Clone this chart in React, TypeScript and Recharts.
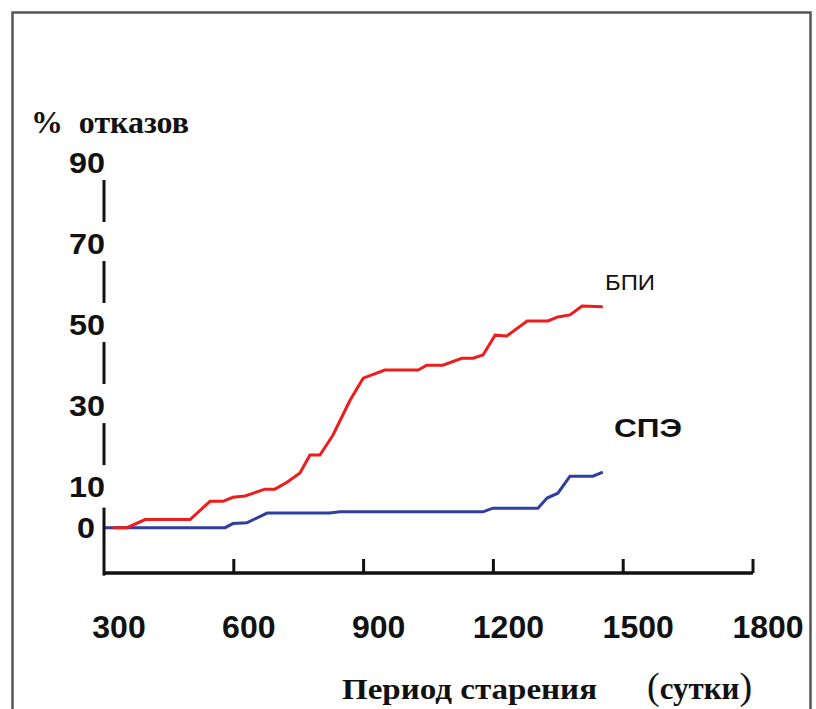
import React from 'react';
import { LineChart, Line, XAxis, YAxis } from 'recharts';

// БПИ — red curve (days, % failures)
const bpiDays = [320, 353, 395, 499, 545, 575, 598, 626, 672, 695, 723, 753, 776, 799, 829, 869, 899, 949, 1026, 1046, 1083, 1127, 1153, 1176, 1204, 1231, 1278, 1326, 1349, 1377, 1405, 1453];
const bpiFail = [0, 0, 2, 2, 6.5, 6.5, 7.5, 7.8, 9.5, 9.5, 11.2, 13.5, 17.9, 17.9, 22.8, 31.5, 36.9, 38.9, 38.9, 40.1, 40.1, 41.8, 41.8, 42.6, 47.5, 47.3, 51, 51, 52, 52.5, 54.7, 54.5];

// СПЭ — blue curve
const speDays = [300, 580, 598, 630, 677, 822, 845, 1176, 1199, 1303, 1324, 1349, 1377, 1430, 1453];
const speFail = [0, 0, 1, 1.2, 3.6, 3.6, 3.9, 3.9, 4.8, 4.8, 7.3, 8.5, 12.7, 12.7, 13.7];

const xTicks = [300, 600, 900, 1200, 1500, 1800];
const yTicks = [0, 10, 30, 50, 70, 90];

const bpiData = bpiDays.map((d, i) => ({ d, v: bpiFail[i] }));
const speData = speDays.map((d, i) => ({ d, v: speFail[i] }));

const sans = '"Liberation Sans", Arial, sans-serif';
const serif = '"Liberation Serif", "Times New Roman", serif';
const ink = '#111';

const XTick = (props: any) => {
  const { x, y, payload } = props;
  const s = String(payload.value);
  return (
    <g>
      {payload.value > 300 && <line x1={x} x2={x} y1={y} y2={y - 14} stroke={ink} strokeWidth={3} />}
      <text x={x + 15} y={y + 65} textAnchor="middle" fontSize={31} fontWeight="bold" fontFamily={sans} fill={ink}
        textLength={s.length * 17.8} lengthAdjust="spacingAndGlyphs">
        {s}
      </text>
    </g>
  );
};

const YTick = (props: any) => {
  const { x, y, payload } = props;
  const v = payload.value;
  const s = String(v);
  return (
    <g>
      <text x={v === 0 ? x - 9 : x + 1} y={y + 10} textAnchor="end" fontSize={29} fontWeight="bold" fontFamily={sans} fill={ink}
        textLength={s.length * 18} lengthAdjust="spacingAndGlyphs">
        {s}
      </text>
      {v >= 30 && <line x1={x} x2={x} y1={y + 17} y2={y + 59} stroke={ink} strokeWidth={3} />}
      {v === 0 && <line x1={x} x2={x} y1={y - 20} y2={y + 48} stroke={ink} strokeWidth={3} />}
    </g>
  );
};

export default function App() {
  return (
    <div style={{ position: 'fixed', left: 0, top: 0, width: 816, height: 709, overflow: 'hidden', background: '#fff' }}>
      <LineChart width={816} height={709} margin={{ top: 163, right: 63, left: 44, bottom: 106 }}>
        <XAxis
          dataKey="d"
          type="number"
          domain={[300, 1800]}
          ticks={xTicks}
          allowDataOverflow
          height={30}
          tickSize={0}
          tickMargin={0}
          tickLine={false}
          axisLine={{ stroke: ink, strokeWidth: 3.5 }}
          tick={<XTick />}
        />
        <YAxis
          type="number"
          domain={[-11.2, 90]}
          ticks={yTicks}
          allowDataOverflow
          width={60}
          tickSize={0}
          tickMargin={0}
          tickLine={false}
          axisLine={false}
          tick={<YTick />}
        />
        <Line data={speData} dataKey="v" type="linear" stroke="#2f3f9e" strokeWidth={3} dot={false} isAnimationActive={false} />
        <Line data={bpiData} dataKey="v" type="linear" stroke="#ee1d1d" strokeWidth={3} dot={false} isAnimationActive={false} />
      </LineChart>
      <svg width={816} height={709} style={{ position: 'absolute', left: 0, top: 0, pointerEvents: 'none' }}>
        <path d="M12.5 720 V12.5 H810.5 V720" fill="none" stroke="#555" strokeWidth={2.5} />
        <text x={31} y={133} fontSize={31} fontWeight="bold" fontFamily={serif} fill={ink} xmlSpace="preserve"
          textLength={158} lengthAdjust="spacingAndGlyphs">
          %  отказов
        </text>
        <text x={605} y={290} fontSize={22} fontFamily={sans} fill={ink} textLength={50} lengthAdjust="spacingAndGlyphs">БПИ</text>
        <text x={614} y={437} fontSize={26} fontWeight="bold" fontFamily={sans} fill={ink} textLength={68} lengthAdjust="spacingAndGlyphs">СПЭ</text>
        <text x={342} y={699} fontSize={30} fontWeight="bold" fontFamily={serif} fill={ink} textLength={255} lengthAdjust="spacingAndGlyphs">
          Период старения
        </text>
        <text x={647} y={699} fontFamily={serif} fill={ink}>
          <tspan fontSize={38}>(</tspan>
          <tspan fontSize={31} fontWeight="bold">сутки</tspan>
          <tspan fontSize={38}>)</tspan>
        </text>
      </svg>
    </div>
  );
}
